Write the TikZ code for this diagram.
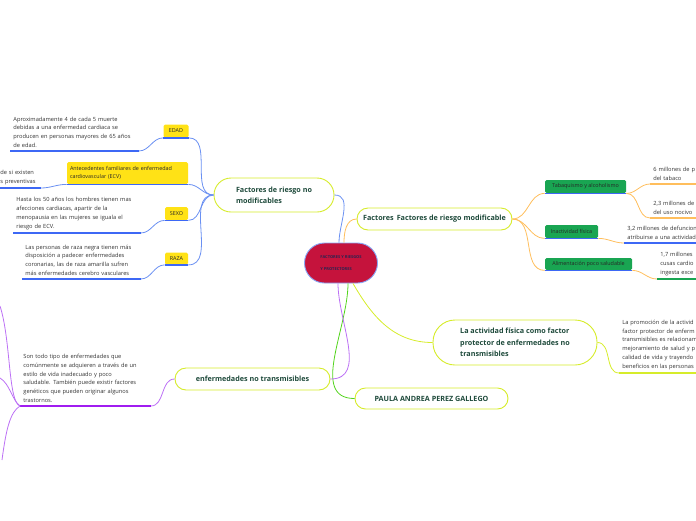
\documentclass[tikz,border=0pt]{standalone}
\usepackage{fontspec}
\setmainfont{Open Sans}
\usetikzlibrary{calc}
\definecolor{bl}{HTML}{6A90F2}
\definecolor{blu}{HTML}{3D68F5}
\definecolor{org}{HTML}{FFBE5C}
\definecolor{lim}{HTML}{D6EC2A}
\definecolor{grn}{HTML}{52D41C}
\definecolor{pur}{HTML}{BC70F5}
\definecolor{purd}{HTML}{A01CF0}
\definecolor{crim}{HTML}{C5133C}
\definecolor{ylw}{HTML}{FFE216}
\definecolor{gbox}{HTML}{19A552}
\definecolor{tt}{HTML}{1E4A3B}
\definecolor{navy}{HTML}{2B2350}
\newcommand\notefont{\fontsize{5.7}{8.8}\selectfont}
\newcommand\topfont{\fontsize{7.2}{11.3}\selectfont\bfseries}
\newcommand\labfont{\fontsize{5.4}{7.4}\selectfont}
\begin{document}
\begin{tikzpicture}[x=1pt,y=-1pt,line width=.8pt,
 t/.style={draw=lim,fill=white,line width=.9pt,text=tt,align=left,font=\topfont,inner sep=0pt},
 yl/.style={fill=ylw,rounded corners=1.5pt,font=\labfont,inner sep=0pt,text=black!85,align=left},
 gl/.style={fill=gbox,rounded corners=1.5pt,font=\labfont,inner sep=0pt,text=black!85},
 n/.style={align=left,font=\notefont,text=black!80,inner xsep=3pt,inner ysep=3pt,anchor=south west,text width=#1},
 ul/.style={line width=1.3pt},
 uln/.style={line width=1.8pt}]
\useasboundingbox (0,0) rectangle (696,520);
% centre topic
\node[draw=bl!80,fill=crim,line width=.9pt,rounded corners=20pt,minimum width=73pt,minimum height=40pt,
 align=left,text=navy,font=\fontsize{4}{12.5}\selectfont\bfseries,inner sep=0pt] (c) at (341,263)
 {FACTORES Y RIESGOS\\Y PROTECTORES};
% main topics
\node[t,rounded corners=17pt,minimum width=120pt,minimum height=34pt] (nm) at (274,195) {Factores de riesgo no\\modificables};
\node[t,rounded corners=11pt,minimum width=155pt,minimum height=22pt] (md) at (434.5,219) {Factores\, Factores de riesgo modificable};
\node[t,rounded corners=22pt,minimum width=164pt,minimum height=45pt] (af) at (515,342.5) {La actividad física como factor\\protector de enfermedades no\\transmisibles};
\node[t,rounded corners=10.5pt,minimum width=153pt,minimum height=21pt] (pa) at (431.5,398.5) {PAULA ANDREA PEREZ GALLEGO};
\node[t,rounded corners=11pt,minimum width=155pt,minimum height=22pt] (en) at (252.5,379) {enfermedades no transmisibles};
\draw[bl] (nm.east) to[out=0,in=90] ([xshift=-2pt]c.north);
\draw[org] ([xshift=3pt]c.north) to[out=90,in=180] (md.west);
\draw[lim] ([xshift=12pt]c.south) to[out=-60,in=180] (af.west);
\draw[grn] ([xshift=7pt]c.south) to[out=-90,in=180] (pa.west);
\draw[pur] ([xshift=-3pt]c.south) to[out=-90,in=0] (en.east);
% no modificables
\node[yl,minimum width=25pt,minimum height=13pt] (ed) at (176,131) {EDAD};
\node[yl,minimum height=22pt,text width=115pt,inner xsep=3pt] (an) at (127.5,173) {Antecedentes familiares de enfermedad\\cardiovascular (ECV)};
\node[yl,minimum width=23pt,minimum height=13pt] (sx) at (176.5,213.5) {SEXO};
\node[yl,minimum width=23pt,minimum height=12pt] (rz) at (176.5,258.5) {RAZA};
\foreach \l in {ed,an,sx,rz}{
 \draw[bl] (nm.west) to[out=180,in=0] (\l.south east);
 \draw[blu,ul] (\l.south west) -- (\l.south east);
}
\node[n=122pt] (edn) at (10,151) {Aproximadamente 4 de cada 5 muerte\\debidas a una enfermedad cardiaca se\\producen en personas mayores de 65 años\\de edad.};
\node[n=40pt,inner xsep=0pt] (ann) at (0,188) {de si existen\\s preventivas};
\node[n=121pt] (sxn) at (13,233) {Hasta los 50 años los hombres tienen mas\\afecciones cardiacas, apartir de la\\menopausia en las mujeres se iguala el\\riesgo de ECV.};
\node[n=112pt] (rzn) at (22,279) {Las personas de raza negra tienen más\\disposición a padecer enfermedades\\coronarias, las de raza amarilla sufren\\más enfermedades cerebro vasculares};
\foreach \l/\m in {ed/edn,an/ann,sx/sxn,rz/rzn}{
 \draw[bl] (\l.south west) to[out=180,in=0] (\m.south east);
 \draw[blu,uln] (\m.south west) -- (\m.south east);
}
% modificables
\node[gl,minimum width=81pt,minimum height=13pt] (tb) at (585.5,186.5) {Tabaquismo y alcoholismo};
\node[gl,minimum width=53pt,minimum height=13pt] (ia) at (571.5,231.5) {Inactividad física};
\node[gl,minimum width=87pt,minimum height=12pt] (al) at (588.5,264) {Alimentación poco saludable};
\foreach \l in {tb,ia,al}{
 \draw[org] (md.east) to[out=0,in=180] (\l.south west);
 \draw[blu,ul] (\l.south west) -- (\l.south east);
}
\node[n=46pt] (tb1) at (650,184) {6 millones de p\\del tabaco};
\node[n=46pt] (tb2) at (650,218) {2,3 millones de\\del uso nocivo};
\node[n=76pt] (ian) at (624,243) {3,2 millones de defuncion\\atribuirse a una actividad};
\node[n=39pt] (aln) at (657,279) {1,7 millones\\cusas cardio\\ingesta exce};
\foreach \l/\m/\k in {tb/tb1/org,tb/tb2/org,ia/ian/blu,al/aln/gbox}{
 \draw[org] (\l.south east) to[out=0,in=180] (\m.south west);
 \draw[\k,uln] (\m.south west) -- (\m.south east);
}
% actividad fisica
\node[n=76pt] (afn) at (619,373) {La promoción de la activid\\factor protector de enferm\\transmisibles es relacionam\\mejoramiento de salud y p\\calidad de vida y trayendo\\beneficios en las personas};
\draw[lim] (af.east) to[out=0,in=180] (afn.south west);
\draw[lim,uln] (afn.south west) -- (afn.south east);
% no transmisibles
\node[n=124pt] (enn) at (20,406) {Son todo tipo de enfermedades que\\comúnmente se adquieren a través de un\\estilo de vida inadecuado y poco\\saludable. También puede existir factores\\genéticos que pueden originar algunos\\trastornos.};
\draw[pur] (en.west) to[out=180,in=0] (enn.south east);
\draw[purd,uln] (enn.south west) -- (enn.south east);
\coordinate (p1) at (0,306);
\coordinate (p2) at (0,378);
\coordinate (p3) at (2,460);
\draw[pur] (enn.south west) .. controls (8,402) and (11,340) .. (p1);
\draw[pur] (enn.south west) .. controls (12,400) and (10,384) .. (p2);
\draw[pur] (enn.south west) .. controls (10,412) and (6,430) .. (p3);
\end{tikzpicture}
\end{document}
